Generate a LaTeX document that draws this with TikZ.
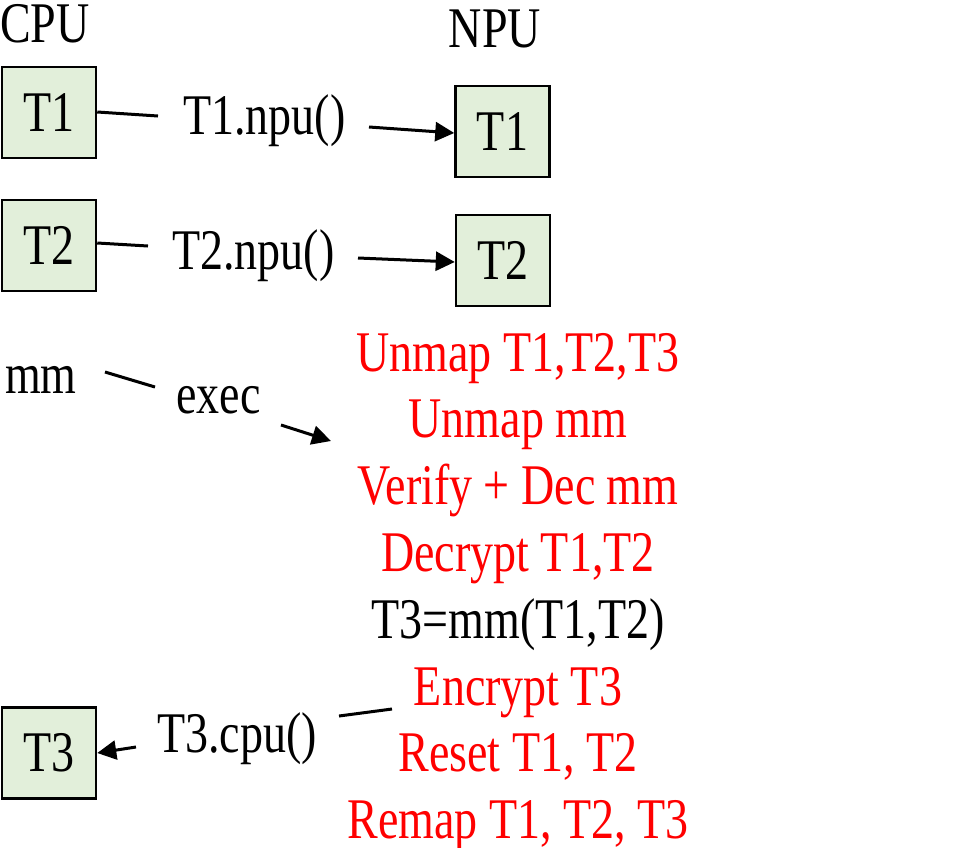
\documentclass[tikz,border=0pt]{standalone}
\usepackage{fontspec}
\setmainfont{Liberation Serif}[FakeStretch=0.8]
\usetikzlibrary{arrows.meta}
\definecolor{boxfill}{RGB}{226,239,218}
\tikzset{
  txt/.style={font=\fontsize{57.5}{67}\selectfont, inner sep=0pt, anchor=base},
  redtxt/.style={txt, text=red},
  tbox/.style={draw=black, line width=2.5pt, fill=boxfill, minimum width=94pt, minimum height=91pt, inner sep=0pt, font=\fontsize{57.5}{67}\selectfont},
  conn/.style={line width=3pt},
  arr/.style={line width=3pt, -{Triangle[length=19pt,width=19pt]}}
}
\begin{document}
\begin{tikzpicture}[x=1pt,y=-1pt]
\useasboundingbox (0,0) rectangle (957,847);
% headers
\node[txt, anchor=base west] (cpu) at (0,42) {CPU};
\node[txt] (npu) at (495,47) {NPU};
% boxes
\node[tbox] (c1) at (49,112.5) {T1};
\node[tbox] (n1) at (502.5,131.5) {T1};
\node[tbox] (c2) at (49,245.5) {T2};
\node[tbox] (n2) at (503,260.5) {T2};
\node[tbox] (c3) at (49,753) {T3};
% labels
\node[txt, anchor=base west] (l1) at (183,134) {T1.npu()};
\node[txt, anchor=base west] (l2) at (172,269) {T2.npu()};
\node[txt, anchor=base west] (mm) at (5,393) {mm};
\node[txt, anchor=base west] (exec) at (176,413) {exec};
\node[txt, anchor=base west] (l3) at (157,752) {T3.cpu()};
% red list
\node[redtxt] (r1) at (518,371) {Unmap T1,T2,T3};
\node[redtxt] (r2) at (518,437.8) {Unmap mm};
\node[redtxt] (r3) at (518,504.6) {Verify + Dec mm};
\node[redtxt] (r4) at (518,571.4) {Decrypt T1,T2};
\node[txt] (r5) at (518,638.2) {T3=mm(T1,T2)};
\node[redtxt] (r6) at (518,705) {Encrypt T3};
\node[redtxt] (r7) at (518,771.8) {Reset T1, T2};
\node[redtxt] (r8) at (518,838.6) {Remap T1, T2, T3};
% free ends
\coordinate (a1e) at (158,116);
\coordinate (a1s) at (369,127);
\coordinate (a2e) at (148,246);
\coordinate (a2s) at (358,258);
\coordinate (m1s) at (105,372);
\coordinate (m1e) at (155,387);
\coordinate (m2s) at (281,425);
\coordinate (m2e) at (331,441);
\coordinate (t3s) at (392,709);
\coordinate (t3e) at (339,716);
\coordinate (t3a) at (136,747);
% connectors
\draw[conn] (c1.east |- 0,112) -- (a1e);
\draw[arr] (a1s) -- (n1.west |- 0,133);
\draw[conn] (c2.east |- 0,243) -- (a2e);
\draw[arr] (a2s) -- (n2.west |- 0,262);
\draw[conn] (m1s) -- (m1e);
\draw[arr] (m2s) -- (m2e);
\draw[conn] (t3s) -- (t3e);
\draw[arr] (t3a) -- (c3.east |- 0,753);
\end{tikzpicture}
\end{document}
